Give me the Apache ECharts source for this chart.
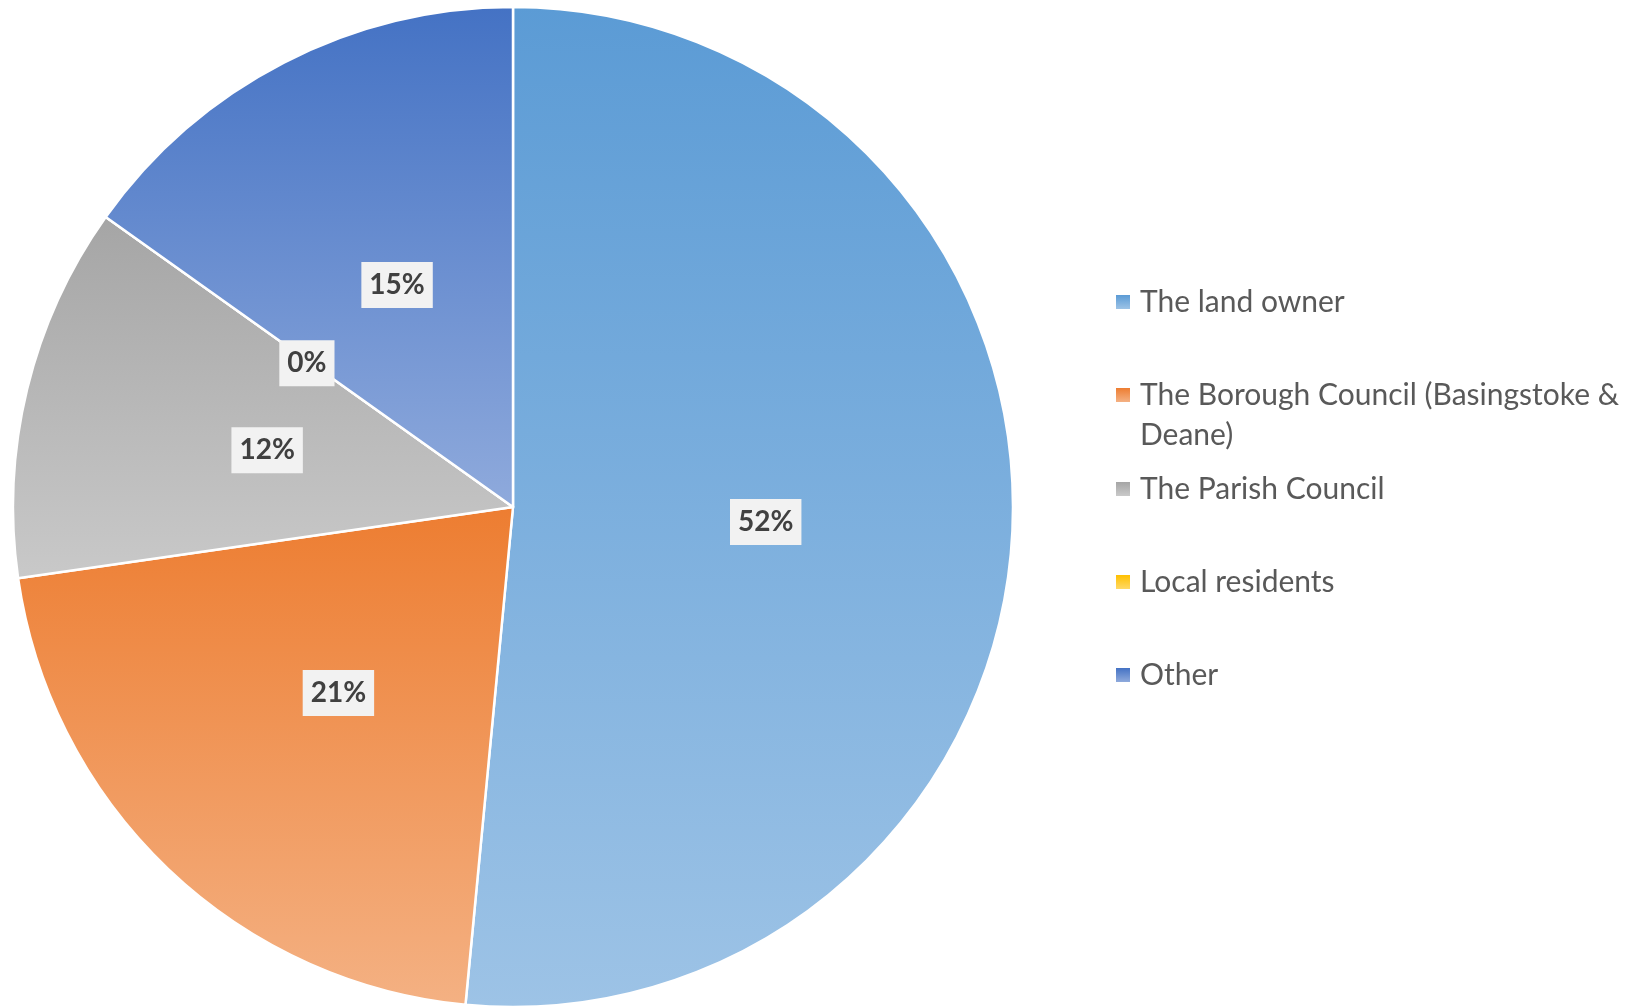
<!DOCTYPE html>
<html lang="en">
<head>
    <meta charset="utf-8">
    <title>ECharts</title>
    <script src="https://cdn.jsdelivr.net/npm/echarts@6/dist/echarts.min.js"></script>
    <style>
        html, body { margin: 0; padding: 0; background: #fff; }
    </style>
</head>
<body>
<div id="main" style="width: 1639px;height:1008px;"></div>
<script type="text/javascript">
    var myChart = echarts.init(document.getElementById('main'));

    // answers (counts)
    var categories = ['The land owner', 'The Borough Council (Basingstoke & Deane)', 'The Parish Council', 'Local residents', 'Other'];
    var counts = [17, 7, 4, 0, 5];
    // gradient top / bottom colours for each slice
    var topColors = ['#5B9BD5', '#ED7D31', '#A5A5A5', '#FFC000', '#4472C4'];
    var bottomColors = ['#9DC3E6', '#F4B183', '#C9C9C9', '#FFD966', '#8FAADC'];
    // legend rows (centre of first text line)
    var legendRows = [300, 393, 487, 580, 673];

    function grad(i) {
        return new echarts.graphic.LinearGradient(0, 0, 0, 1, [
            { offset: 0, color: topColors[i] },
            { offset: 1, color: bottomColors[i] }
        ]);
    }

    var data = categories.map(function (name, i) {
        return { name: name, value: counts[i], itemStyle: { color: grad(i) } };
    });

    var legends = categories.map(function (name, i) {
        var twoLine = name.indexOf('Basingstoke') >= 0;
        return {
            data: [name],
            orient: 'vertical',
            left: 1111,
            top: legendRows[i] - 3 - (twoLine ? 60 : 20),
            itemWidth: 14,
            itemHeight: 14,
            icon: 'rect',
            itemStyle: { borderWidth: 0 },
            formatter: function (n) {
                return twoLine ? '\nThe Borough Council (Basingstoke &\nDeane)' : n;
            },
            textStyle: {
                fontFamily: 'Lato',
                fontSize: 30,
                lineHeight: 40,
                color: '#595959',
                padding: [0, 0, 0, 5]
            }
        };
    });

    option = {
        animation: false,
        backgroundColor: '#fff',
        legend: legends,
        series: [{
            type: 'pie',
            center: [513, 507],
            radius: 500,
            startAngle: 90,
            clockwise: true,
            avoidLabelOverlap: false,
            data: data,
            itemStyle: {
                borderColor: '#fff',
                borderWidth: 2.5
            },
            label: {
                show: true,
                position: 'inside',
                formatter: function (p) {
                    return Math.round(p.percent) + '%';
                },
                fontFamily: 'Lato',
                fontWeight: 'bold',
                fontSize: 28,
                color: '#404040',
                backgroundColor: '#F2F2F2',
                padding: [10, 8, 8, 8],
                offset: [0, 3]
            },
            labelLine: { show: false },
            emphasis: { disabled: true }
        }]
    };

    myChart.setOption(option);
</script>
</body>
</html>
